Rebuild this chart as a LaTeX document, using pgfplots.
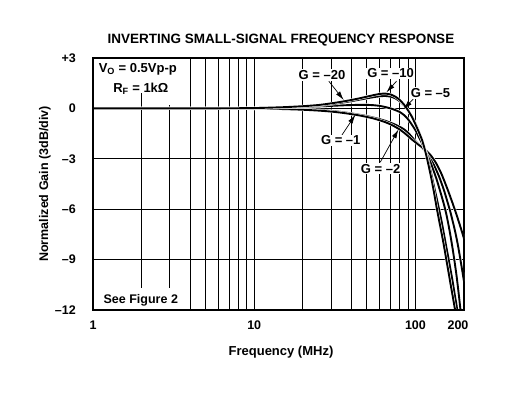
\documentclass[border=0pt]{standalone}
\usepackage{fontspec}
\setmainfont{Liberation Sans}
\usepackage{pgfplots}
\pgfplotsset{compat=1.18}
\usetikzlibrary{arrows.meta}
\begin{document}
\begin{tikzpicture}[x=1pt,y=1pt]
\useasboundingbox (0,0) rectangle (530,395);
\begin{axis}[
  at={(93pt,85pt)}, anchor=south west,
  scale only axis, width=371pt, height=252pt,
  xmode=log, xmin=1, xmax=200, ymin=-12, ymax=3,
  xtick={1,10,100}, xticklabels={1,10,100},
  extra x ticks={200}, extra x tick labels={200},
  extra x tick style={xticklabel style={xshift=-6pt}},
  minor xtick={2,3,4,5,6,7,8,9,20,30,40,50,60,70,80,90},
  ytick={-12,-9,-6,-3,0,3}, yticklabels={–12,–9,–6,–3,0,+3},
  grid=both,
  major grid style={black, line width=1pt},
  minor grid style={black, line width=1pt},
  major tick length=0pt, minor tick length=0pt,
  axis line style={line width=2pt},
  tick label style={font=\bfseries\fontsize{12.5}{13}\selectfont, inner sep=0pt},
  xticklabel style={anchor=north, yshift=-11pt},
  yticklabel style={anchor=east, xshift=-17pt},
  curve/.style={black, line width=1.9pt, no markers, smooth, tension=0.4,
     preaction={draw=white, line width=2.9pt}},
]
\fill[white] (rel axis cs:0.004,0.861) rectangle (rel axis cs:0.2345,0.996);
\fill[white] (rel axis cs:0.18,0.813) rectangle (rel axis cs:0.2345,0.862);
\fill[white] (rel axis cs:0.004,0.004) rectangle (rel axis cs:0.2426,0.087);

% G = -1
\addplot[curve] coordinates {(1,0) (5,0) (10,-0.01) (15,-0.03) (20,-0.06) (25,-0.1) (30,-0.15) (35,-0.22) (40,-0.3) (45,-0.38) (50,-0.46) (55,-0.55) (60,-0.64) (65,-0.74) (70,-0.85) (75,-0.97) (80,-1.1) (85,-1.25) (90,-1.45) (95,-1.7) (100,-1.95) (105,-2.15) (110,-2.35) (115,-2.55) (120,-2.8) (125,-3.05) (130,-3.35) (135,-3.7) (140,-4.05) (145,-4.45) (150,-4.85) (155,-5.3) (160,-5.75) (165,-6.2) (170,-6.7) (175,-7.2) (180,-7.75) (185,-8.35) (190,-9.0) (195,-9.65) (200,-10.3)};
% G = -2
\addplot[curve] coordinates {(1,0) (5,0) (10,-0.01) (15,-0.04) (20,-0.08) (25,-0.13) (30,-0.19) (35,-0.26) (40,-0.34) (45,-0.42) (50,-0.51) (55,-0.6) (60,-0.71) (65,-0.82) (70,-0.95) (75,-1.1) (80,-1.26) (85,-1.45) (90,-1.65) (95,-1.85) (100,-2.02) (105,-2.18) (110,-2.32) (115,-2.47) (120,-2.63) (125,-2.82) (130,-3.05) (135,-3.3) (140,-3.6) (145,-3.9) (150,-4.25) (155,-4.6) (160,-4.95) (165,-5.3) (170,-5.65) (175,-6.0) (180,-6.35) (185,-6.7) (190,-7.05) (195,-7.4) (200,-7.75)};
% G = -5
\addplot[curve] coordinates {(1,0) (5,0) (10,0.01) (15,0.04) (20,0.08) (25,0.12) (30,0.15) (35,0.18) (40,0.2) (45,0.21) (50,0.21) (55,0.19) (60,0.15) (65,0.08) (70,0.0) (75,-0.1) (80,-0.22) (85,-0.4) (90,-0.65) (95,-0.97) (100,-1.3) (105,-1.7) (110,-2.1) (115,-2.5) (120,-2.9) (125,-3.3) (130,-3.75) (135,-4.2) (140,-4.7) (145,-5.2) (150,-5.7) (155,-6.25) (160,-6.9) (165,-7.6) (170,-8.35) (175,-9.15) (180,-10.0) (185,-10.95) (190,-11.95) (192,-12.3)};
% G = -20
\addplot[curve] coordinates {(1,0) (3,0) (6,0.005) (10,0.02) (15,0.06) (20,0.11) (25,0.17) (30,0.25) (35,0.34) (40,0.43) (45,0.52) (50,0.6) (55,0.67) (60,0.72) (65,0.74) (70,0.7) (75,0.6) (80,0.42) (85,0.18) (90,-0.12) (95,-0.48) (100,-0.9) (105,-1.38) (110,-1.9) (115,-2.5) (120,-3.15) (125,-3.85) (130,-4.6) (135,-5.3) (140,-6.0) (145,-6.7) (150,-7.45) (155,-8.2) (160,-8.9) (165,-9.6) (170,-10.3) (175,-11.05) (180,-11.75) (183,-12.2)};
% G = -10
\addplot[curve] coordinates {(1,0) (3,0) (6,0.005) (10,0.02) (15,0.07) (20,0.13) (25,0.2) (30,0.3) (35,0.4) (40,0.5) (45,0.6) (50,0.7) (55,0.79) (60,0.86) (65,0.88) (70,0.83) (75,0.7) (80,0.5) (85,0.22) (90,-0.12) (95,-0.5) (100,-0.95) (105,-1.42) (110,-1.9) (115,-2.55) (120,-3.3) (125,-4.1) (130,-4.95) (135,-5.85) (140,-6.65) (145,-7.4) (150,-8.15) (155,-8.95) (160,-9.7) (165,-10.45) (170,-11.15) (175,-11.85) (178,-12.2)};

\draw[line width=2pt] (rel axis cs:0,0) rectangle (rel axis cs:1,1);

% annotations
\tikzset{arr/.style={line width=0.7pt, -{Latex[length=9pt,width=5pt]}},
         lab/.style={font=\bfseries\fontsize{13}{14}\selectfont, fill=white, inner sep=1pt}}
\draw[arr] (axis cs:29.0,1.62) -- (axis cs:35.9,0.5);
\draw[arr] (axis cs:76.3,1.62) -- (axis cs:66,0.95);
\draw[arr] (axis cs:100,0.70) -- (axis cs:84.3,-0.05);
\draw[arr] (axis cs:34.9,-1.6) -- (axis cs:42.4,-0.38);
\draw[arr] (axis cs:60.5,-3.2) -- (axis cs:78.5,-1.25);
\node[lab] at (axis cs:26.3,1.99) {G = –20};
\node[lab] at (axis cs:70.1,2.1) {G = –10};
\node[lab] at (axis cs:123.9,0.92) {G = –5};
\node[lab] at (axis cs:34.4,-1.9) {G = –1};
\node[lab] at (axis cs:60.8,-3.58) {G = –2};
\node[font=\bfseries\fontsize{13}{14}\selectfont, inner sep=0pt] at (axis cs:1.896,2.35) {V\textsubscript{O} = 0.5Vp-p};
\node[font=\bfseries\fontsize{13}{14}\selectfont, inner sep=0pt] at (axis cs:1.98,1.15) {R\textsubscript{F} = 1kΩ};
\node[font=\bfseries\fontsize{12.5}{13}\selectfont, inner sep=0pt] at (axis cs:1.98,-11.4) {See Figure 2};
\end{axis}
\node[font=\bfseries\fontsize{13.5}{14}\selectfont] at (281,355) {INVERTING SMALL-SIGNAL FREQUENCY RESPONSE};
\node[font=\bfseries\fontsize{13}{14}\selectfont] at (281,43) {Frequency (MHz)};
\node[font=\bfseries\fontsize{12.5}{13}\selectfont, rotate=90] at (45,211) {Normalized Gain (3dB/div)};
\end{tikzpicture}
\end{document}
